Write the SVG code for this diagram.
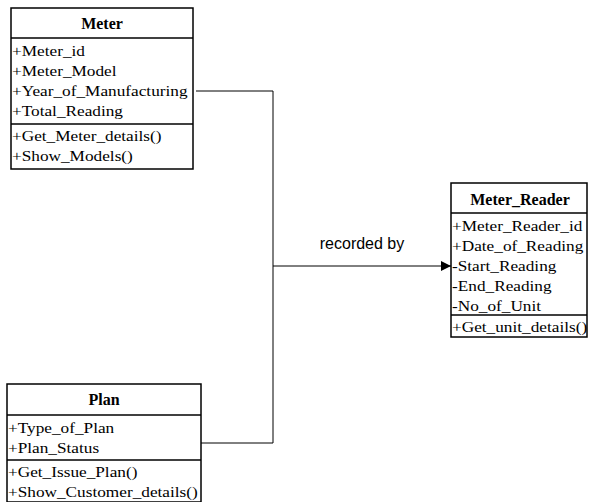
<svg xmlns="http://www.w3.org/2000/svg" width="589" height="502" viewBox="0 0 589 502">
<style>
.box{fill:#fff;stroke:#000;stroke-width:1.5}
.div{stroke:#000;stroke-width:1.5}
.t{font-family:"Liberation Serif","Times New Roman",serif;font-size:15px;fill:#000}
.h{font-family:"Liberation Serif","Times New Roman",serif;font-size:16px;font-weight:bold;fill:#000;text-anchor:middle}
.c{fill:none;stroke:#000;stroke-width:1}
.lbl{font-family:"Liberation Sans",Arial,sans-serif;font-size:16px;fill:#000;text-anchor:middle}
</style>
<defs>
<marker id="arr" markerWidth="10" markerHeight="10" refX="10" refY="5" orient="auto" markerUnits="userSpaceOnUse">
<path d="M0,0 L10,5 L0,10 Z" fill="#000"/>
</marker>
</defs>
<rect width="589" height="502" fill="#fff"/>
<g id="connectors">
<polyline class="c" points="196,91 273,91 273,443 198,443"/>
<line class="c" x1="273" y1="266" x2="451" y2="266" marker-end="url(#arr)"/>
<text class="lbl" x="362" y="249">recorded by</text>
</g>
<g id="meter">
<rect class="box" x="11" y="8" width="182" height="161"/>
<line class="div" x1="11" y1="38" x2="193" y2="38"/>
<line class="div" x1="11" y1="124" x2="193" y2="124"/>
<text class="h" x="102" y="29">Meter</text>
<g transform="matrix(1.15,0,0,1,-1.8,0)">
<text class="t" x="12" y="56">+Meter_id</text>
<text class="t" x="12" y="76">+Meter_Model</text>
<text class="t" x="12" y="96">+Year_of_Manufacturing</text>
<text class="t" x="12" y="116">+Total_Reading</text>
<text class="t" x="12" y="141">+Get_Meter_details()</text>
<text class="t" x="12" y="161">+Show_Models()</text>
</g>
</g>
<g id="meter_reader">
<rect class="box" x="451" y="183" width="136" height="154"/>
<line class="div" x1="451" y1="213" x2="587" y2="213"/>
<line class="div" x1="451" y1="315" x2="587" y2="315"/>
<text class="h" x="520" y="205">Meter_Reader</text>
<g transform="matrix(1.15,0,0,1,-67.8,0)">
<text class="t" x="452" y="231">+Meter_Reader_id</text>
<text class="t" x="452" y="251">+Date_of_Reading</text>
<text class="t" x="452" y="271">-Start_Reading</text>
<text class="t" x="452" y="291">-End_Reading</text>
<text class="t" x="452" y="311">-No_of_Unit</text>
<text class="t" x="452" y="332">+Get_unit_details()</text>
</g>
</g>
<g id="plan">
<rect class="box" x="7" y="384" width="194" height="118"/>
<line class="div" x1="7" y1="415" x2="201" y2="415"/>
<line class="div" x1="7" y1="460" x2="201" y2="460"/>
<text class="h" x="104" y="405">Plan</text>
<g transform="matrix(1.15,0,0,1,-1.2,0)">
<text class="t" x="8" y="433">+Type_of_Plan</text>
<text class="t" x="8" y="453">+Plan_Status</text>
<text class="t" x="8" y="477">+Get_Issue_Plan()</text>
<text class="t" x="8" y="497">+Show_Customer_details()</text>
</g>
</g>
</svg>
